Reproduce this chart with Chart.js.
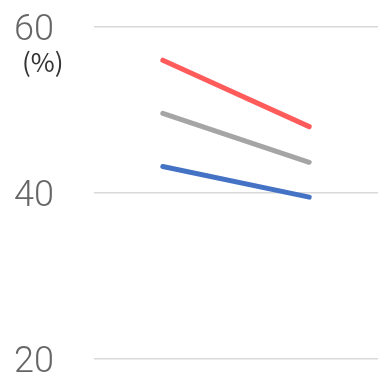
<!DOCTYPE html>
<html>
<head>
<meta charset="utf-8">
<style>
  html, body { margin: 0; padding: 0; background: #fff; }
  #wrap { position: relative; width: 378px; height: 376px; }
</style>
<script src="https://cdn.jsdelivr.net/npm/chart.js@4/dist/chart.umd.min.js"></script>
</head>
<body>
<div id="wrap"><canvas id="chart" width="378" height="376"></canvas></div>
<script>
// data
const categories = ['前', '後'];
const redValues = [56.0, 48.0];
const grayValues = [49.6, 43.7];
const blueValues = [43.2, 39.5];
const yTicks = [20, 40, 60];
const unitLabel = '(%)';

// draws the unit label under the top tick
const unitLabelPlugin = {
    id: 'unitLabel',
    afterDraw(chart) {
        const ctx = chart.ctx;
        ctx.save();
        ctx.font = '26px "Noto Sans CJK JP", "Noto Sans", sans-serif';
        ctx.fillStyle = '#333333';
        ctx.textAlign = 'left';
        ctx.textBaseline = 'middle';
        ctx.fillText(unitLabel, 22, 62);
        ctx.restore();
    }
};

function makeSeries(values, color) {
    return {
        data: values.map((v, i) => ({ x: i, y: v })),
        borderColor: color,
        backgroundColor: color,
        borderWidth: 5,
        borderCapStyle: 'round',
        pointRadius: 0,
        tension: 0,
        fill: false
    };
}

new Chart(document.getElementById('chart'), {
    type: 'line',
    data: {
        datasets: [
            makeSeries(redValues, '#ff5b5b'),
            makeSeries(grayValues, '#a5a5a5'),
            makeSeries(blueValues, '#4472c4')
        ]
    },
    options: {
        responsive: false,
        animation: false,
        layout: { padding: { left: 14, right: 0, top: 27, bottom: 17 } },
        plugins: {
            legend: { display: false },
            tooltip: { enabled: false }
        },
        scales: {
            x: {
                type: 'linear',
                display: false,
                min: -0.47,
                max: 1.47,
                ticks: { callback: (v) => categories[v] || '' }
            },
            y: {
                min: yTicks[0],
                max: yTicks[yTicks.length - 1],
                afterBuildTicks: (axis) => {
                    axis.ticks = yTicks.map(v => ({ value: v }));
                },
                afterFit: (axis) => {
                    axis.width = 80;
                    axis.paddingTop = 0;
                    axis.paddingBottom = 0;
                },
                border: { display: false },
                grid: {
                    color: '#d9d9d9',
                    lineWidth: 1.5,
                    drawTicks: false
                },
                ticks: {
                    crossAlign: 'far',
                    padding: 0,
                    color: '#666666',
                    // empty first line nudges the number a few px down onto its gridline
                    callback: (v) => ['', String(v)],
                    font: { family: 'Roboto', size: 36, weight: 300, lineHeight: 0.2 }
                }
            }
        }
    },
    plugins: [unitLabelPlugin]
});
</script>
</body>
</html>
